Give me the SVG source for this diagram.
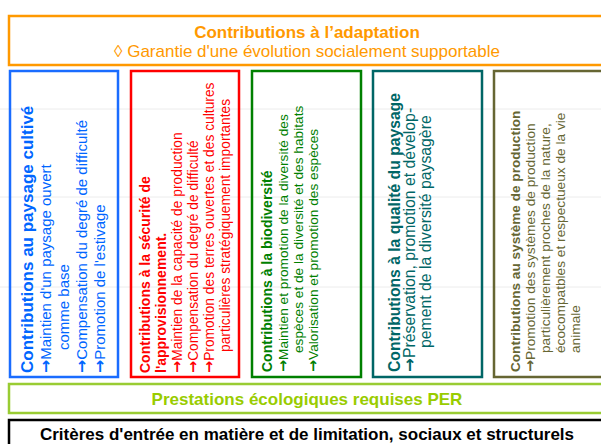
<svg xmlns="http://www.w3.org/2000/svg" width="601" height="444" viewBox="0 0 601 444">
<style>
text{font-family:"Liberation Sans",Arial,sans-serif}
.t{font-weight:bold}
.a{font-family:"DejaVu Sans",sans-serif;font-size:1.05em;font-weight:bold}
.box{fill:none;stroke-width:2.5}
.grid{stroke:#ececec;stroke-width:1}
</style>
<rect width="601" height="444" fill="#fff"/>
<g id="grid">
<line class="grid" x1="0" y1="109" x2="601" y2="109"/>
<line class="grid" x1="0" y1="197" x2="601" y2="197"/>
<line class="grid" x1="0" y1="287" x2="601" y2="287"/>
</g>
<g id="adaptation">
<rect class="box" x="9" y="16" width="600" height="49" stroke="#FF9900"/>
<text x="307" y="38" text-anchor="middle" font-size="17" class="t" fill="#FF9900">Contributions à l’adaptation</text>
<text x="307" y="57" text-anchor="middle" font-size="17" fill="#FF9900">◊ Garantie d'une évolution socialement supportable</text>
</g>
<g id="paysage-cultive" fill="#0066FF">
<rect class="box" x="10" y="71" width="108" height="306" stroke="#1A6CFF"/>
<text transform="translate(33,373) rotate(-90)" font-size="17" class="t">Contributions au paysage cultivé</text>
<text transform="translate(51,373) rotate(-90)" font-size="15"><tspan class="a">→</tspan>Maintien d'un paysage ouvert</text>
<text transform="translate(69,350) rotate(-90)" font-size="15">comme base</text>
<text transform="translate(87,373) rotate(-90)" font-size="15"><tspan class="a">→</tspan>Compensation du degré de difficulté</text>
<text transform="translate(105,373) rotate(-90)" font-size="15"><tspan class="a">→</tspan>Promotion de l'estivage</text>
</g>
<g id="securite" fill="#FF0000">
<rect class="box" x="131" y="71" width="108" height="306" stroke="#FF0000"/>
<text transform="translate(150,373) rotate(-90)" font-size="14" class="t">Contributions à la sécurité de</text>
<text transform="translate(166,373) rotate(-90)" font-size="14" class="t">l'approvisionnement.</text>
<text transform="translate(182,373) rotate(-90)" font-size="13.8"><tspan class="a">→</tspan>Maintien de la capacité de production</text>
<text transform="translate(198,373) rotate(-90)" font-size="13.8"><tspan class="a">→</tspan>Compensation du degré de difficulté</text>
<text transform="translate(214,373) rotate(-90)" font-size="13.8"><tspan class="a">→</tspan>Promotion des terres ouvertes et des cultures</text>
<text transform="translate(230,352) rotate(-90)" font-size="13.8">particulières stratégiquement importantes</text>
</g>
<g id="biodiversite" fill="#008000">
<rect class="box" x="252" y="71" width="109" height="306" stroke="#008000"/>
<text transform="translate(272,372) rotate(-90)" font-size="14" class="t">Contributions à la biodiversité</text>
<text transform="translate(288,372) rotate(-90)" font-size="13.7"><tspan class="a">→</tspan>Maintien et promotion de la diversité des</text>
<text transform="translate(303,353) rotate(-90)" font-size="13.7">espèces et de la diversité et des habitats</text>
<text transform="translate(318,372) rotate(-90)" font-size="13.7"><tspan class="a">→</tspan>Valorisation et promotion des espèces</text>
</g>
<g id="qualite-paysage" fill="#006666">
<rect class="box" x="373" y="71" width="109" height="306" stroke="#006666"/>
<text transform="translate(400,372) rotate(-90)" font-size="15.7" class="t">Contributions à la qualité du paysage</text>
<text transform="translate(415,372) rotate(-90)" font-size="15.8"><tspan class="a">→</tspan>Préservation, promotion et dévelop-</text>
<text transform="translate(431,348) rotate(-90)" font-size="15.8">pement de la diversité paysagère</text>
</g>
<g id="systeme-production" fill="#666633">
<rect class="box" x="494" y="71" width="120" height="306" stroke="#666633"/>
<text transform="translate(520,372) rotate(-90)" font-size="13.6" class="t">Contributions au système de production</text>
<text transform="translate(535,372) rotate(-90)" font-size="13.7"><tspan class="a">→</tspan>Promotion des systèmes de production</text>
<text transform="translate(550,353) rotate(-90)" font-size="13.7">particulièrement proches de la nature,</text>
<text transform="translate(565,353) rotate(-90)" font-size="13.7">écocompatbles et respectueux de la vie</text>
<text transform="translate(580,353) rotate(-90)" font-size="13.7">animale</text>
</g>
<g id="per">
<rect class="box" x="9" y="384" width="600" height="29" stroke="#99CC33"/>
<text x="307" y="405" text-anchor="middle" font-size="17" class="t" fill="#99CC00">Prestations écologiques requises PER</text>
</g>
<g id="criteres">
<rect class="box" x="9" y="420" width="600" height="40" stroke="#000"/>
<text x="307" y="440" text-anchor="middle" font-size="17" class="t" fill="#000">Critères d'entrée en matière et de limitation, sociaux et structurels</text>
</g>
<g id="connectors"/>
</svg>
